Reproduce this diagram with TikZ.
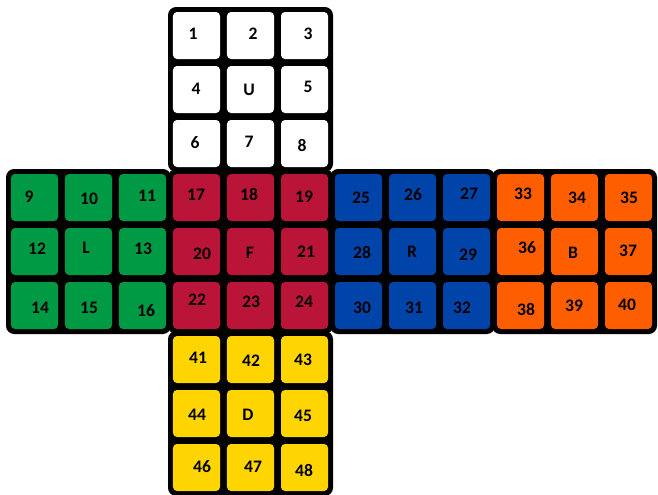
\documentclass[tikz,border=0pt]{standalone}
\usepackage{fontspec}
\setmainfont{Carlito}
\usetikzlibrary{positioning}

\definecolor{cubegreen}{RGB}{0,153,68}
\definecolor{cubered}{RGB}{186,20,56}
\definecolor{cubeblue}{RGB}{0,68,170}
\definecolor{cubeorange}{RGB}{255,94,0}
\definecolor{cubeyellow}{RGB}{255,213,0}

\begin{document}
\begin{tikzpicture}[
    x=0.03cm, y=-0.03cm,
    face/.style    = {fill=black, rounded corners=7pt},
    sticker/.style = {draw=none, rounded corners=3.4pt, inner sep=0pt,
                      minimum size=1.41cm},
    num/.style     = {font=\fontsize{15}{17}\selectfont\bfseries, inner sep=1pt}
]
    \useasboundingbox (0,0) rectangle (658,495);

    %-- Black face plates (column/row of the face in sticker units) ----------
    \foreach \fc/\fr/\nm/\col in {
        3/0/U/white,
        0/3/L/cubegreen,
        3/3/F/cubered,
        6/3/R/cubeblue,
        9/3/B/cubeorange,
        3/6/D/cubeyellow}{
        \fill[face] ({6+54*\fc},{7+54*\fr}) rectangle ({171+54*\fc},{172+54*\fr});
        %-- 3x3 stickers of this face
        \foreach \i in {0,1,2}{
            \foreach \j in {0,1,2}{
                \node[sticker, fill=\col] (\nm-\j-\i)
                      at ({34.5+54*(\fc+\i)},{35.5+54*(\fr+\j)}) {};
            }
        }
    }

    %-- Sticker labels (set a little off centre, as printed) ----------------
    \foreach \x/\y/\txt in {
        193/34/1, 253/34/2, 308/34/3,
        196/89/4, 249/90/U, 308/87/5,
        195/143/6, 249/142/7, 302/145/8,
        29/197/9, 89/199/10, 147/196/11,
        37/249/12, 86/248/L, 143/249/13,
        40/308/14, 89/308/15, 146/311/16,
        196/195/17, 249/194/18, 304/197/19,
        202/254/20, 250/253/F, 306/252/21,
        197/300/22, 251/302/23, 304/302/24,
        361/198/25, 413/195/26, 469/194/27,
        362/252/28, 412/252/R, 468/255/29,
        362/308/30, 414/308/31, 462/308/32,
        523/194/33, 577/198/34, 629/198/35,
        527/248/36, 573/253/B, 628/251/37,
        526/309/38, 574/306/39, 627/305/40,
        198/358/41, 251/361/42, 303/360/43,
        197/415/44, 248/415/D, 303/416/45,
        202/467/46, 253/467/47, 304/470/48}{
        \node[num] (lbl-\txt) at (\x,\y) {\txt};
    }

\end{tikzpicture}
\end{document}
